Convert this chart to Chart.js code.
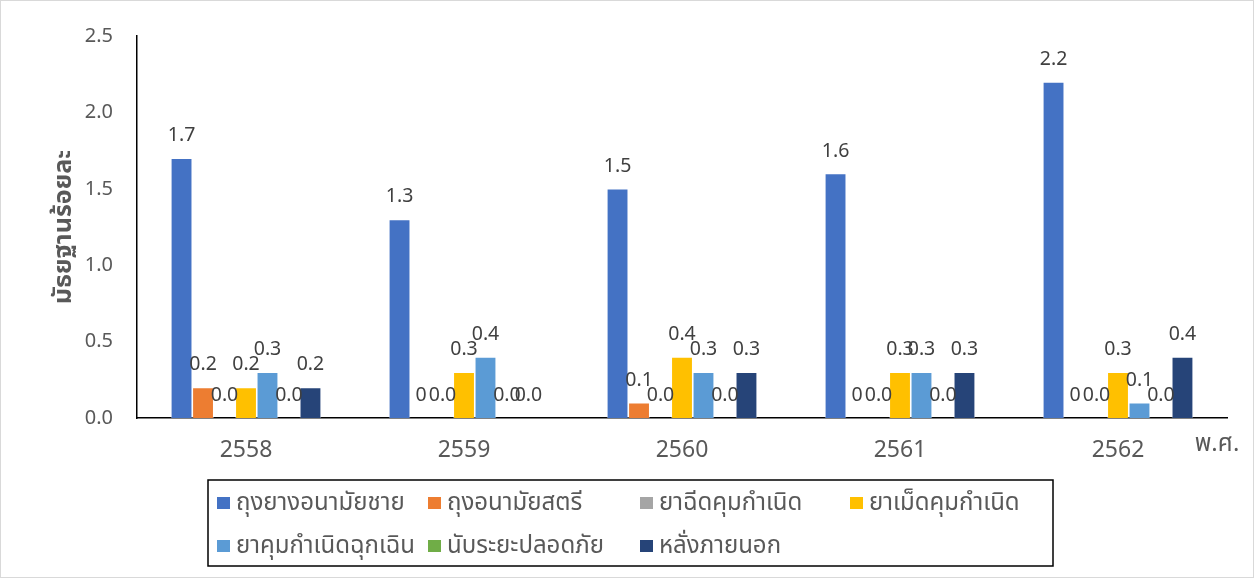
<!DOCTYPE html>
<html>
<head>
<meta charset="utf-8">
<script src="https://cdn.jsdelivr.net/npm/chart.js@4/dist/chart.umd.min.js"></script>
<style>
html,body{margin:0;padding:0;background:#fff;}
#wrap{width:1254px;height:578px;position:relative;}
canvas{display:block;}
</style>
</head>
<body>
<div id="wrap"><canvas id="c" width="1254" height="578"></canvas></div>
<script>
// ---- data ----
const years = ['2558', '2559', '2560', '2561', '2562'];
const seriesNames = ['ถุงยางอนามัยชาย', 'ถุงอนามัยสตรี', 'ยาฉีดคุมกำเนิด', 'ยาเม็ดคุมกำเนิด', 'ยาคุมกำเนิดฉุกเฉิน', 'นับระยะปลอดภัย', 'หลั่งภายนอก'];
const maleCondom     = [1.7, 1.3, 1.5, 1.6, 2.2];
const femaleCondom   = [0.2, 0,   0.1, 0,   0];
const injection      = [0.0, 0.0, 0.0, 0.0, 0.0];
const pill           = [0.2, 0.3, 0.4, 0.3, 0.3];
const emergencyPill  = [0.3, 0.4, 0.3, 0.3, 0.1];
const safePeriod     = [0.0, 0.0, 0.0, 0.0, 0.0];
const withdrawal     = [0.2, 0.0, 0.3, 0.3, 0.4];
const labelFormats   = ['0.0', 'General', '0.0', '0.0', '0.0', '0.0', '0.0'];
const yTickValues    = [0, 0.5, 1.0, 1.5, 2.0, 2.5];
const yAxisTitle = 'มัธยฐานร้อยละ';
const xAxisTitle = 'พ.ศ.';

const seriesData = [maleCondom, femaleCondom, injection, pill, emergencyPill, safePeriod, withdrawal];
const colors = ['#4472C4', '#ED7D31', '#A5A5A5', '#FFC000', '#5B9BD5', '#70AD47', '#264478'];
const FAMILY = '"Noto Sans", "Noto Sans Thai", "Leelawadee UI", Tahoma, "DejaVu Sans", sans-serif';
const TXT = '#595959';

function fmt(v, f) {
  if (f === 'General') return String(v);
  return Number(v).toFixed(1);
}

const valueLabels = {
  id: 'valueLabels',
  afterDatasetsDraw(chart) {
    const ctx = chart.ctx;
    ctx.save();
    ctx.font = '19.5px ' + FAMILY;
    ctx.fillStyle = '#404040';
    ctx.textAlign = 'center';
    ctx.textBaseline = 'alphabetic';
    chart.data.datasets.forEach((ds, di) => {
      const meta = chart.getDatasetMeta(di);
      meta.data.forEach((el, i) => {
        ctx.fillText(fmt(ds.data[i], labelFormats[di]), el.x, el.y - 17);
      });
    });
    ctx.restore();
  }
};

const extras = {
  id: 'extras',
  afterDraw(chart) {
    const ctx = chart.ctx;
    const ca = chart.chartArea;
    ctx.save();
    // outer border
    ctx.strokeStyle = '#d9d9d9';
    ctx.lineWidth = 1;
    ctx.strokeRect(0.5, 0.5, chart.width - 1, chart.height - 1);
    // x axis title
    ctx.font = '24px ' + FAMILY;
    ctx.fillStyle = TXT;
    ctx.textAlign = 'center';
    ctx.textBaseline = 'middle';
    ctx.fillText(xAxisTitle, ca.right - 10, ca.bottom + 26);
    // legend box
    const bx = 208, by = 480, bw = 845, bh = 86;
    ctx.strokeStyle = '#000';
    ctx.lineWidth = 1.5;
    ctx.strokeRect(bx, by, bw, bh);
    const colX = [217, 428, 640, 850];
    const rowY = [503, 546];
    ctx.font = '24px ' + FAMILY;
    ctx.textAlign = 'left';
    ctx.textBaseline = 'middle';
    chart.data.datasets.forEach((ds, i) => {
      const x = colX[i % 4], y = rowY[Math.floor(i / 4)];
      ctx.fillStyle = ds.backgroundColor;
      ctx.fillRect(x, y - 6, 13, 12);
      ctx.fillStyle = TXT;
      ctx.fillText(ds.label, x + 19, y);
    });
    ctx.restore();
  }
};

new Chart(document.getElementById('c'), {
  type: 'bar',
  data: {
    labels: years,
    datasets: seriesNames.map((name, i) => ({
      label: name,
      data: seriesData[i],
      backgroundColor: colors[i],
      borderColor: 'rgba(255,255,255,0.6)',
      borderWidth: 0.8,
      categoryPercentage: 0.69,
      barPercentage: 1.0
    }))
  },
  options: {
    responsive: false,
    animation: false,
    layout: { padding: { left: 0, right: 27, top: 35, bottom: 0 } },
    plugins: { legend: { display: false }, tooltip: { enabled: false } },
    scales: {
      x: {
        grid: { display: false, drawTicks: false },
        border: { display: true, color: '#000', width: 1.5 },
        ticks: { color: TXT, font: { size: 23, family: FAMILY }, padding: 19 },
        afterFit: (s) => { s.height = 160; }
      },
      y: {
        min: 0, max: 2.5,
        afterBuildTicks: (s) => { s.ticks = yTickValues.map(v => ({ value: v })); },
        grid: { display: false, drawTicks: false },
        border: { display: true, color: '#000', width: 1.5 },
        ticks: { color: TXT, font: { size: 20, family: FAMILY }, padding: 24, callback: (v) => Number(v).toFixed(1) },
        title: { display: true, text: yAxisTitle, color: TXT, font: { size: 25, weight: 'bold', family: FAMILY }, padding: { top: 49, bottom: 0 } },
        afterFit: (s) => { s.width = 137; }
      }
    }
  },
  plugins: [valueLabels, extras]
});
</script>
</body>
</html>
